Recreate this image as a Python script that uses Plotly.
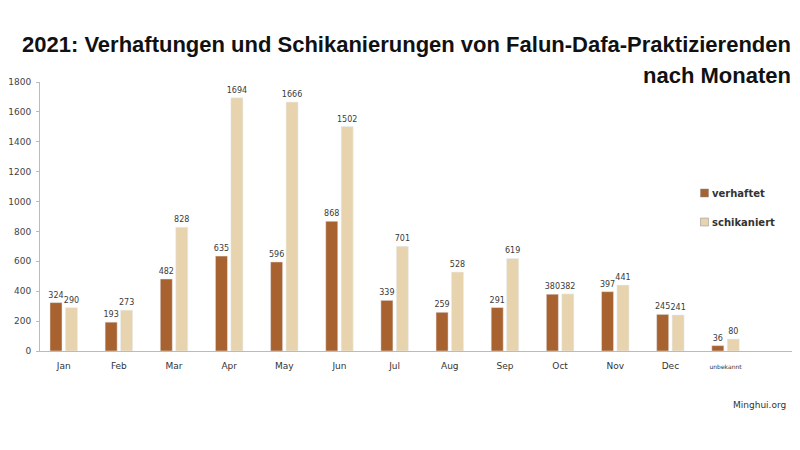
import plotly.graph_objects as go

months = ["Jan", "Feb", "Mar", "Apr", "May", "Jun", "Jul", "Aug", "Sep", "Oct", "Nov", "Dec", "unbekannt"]
verhaftet = [324, 193, 482, 635, 596, 868, 339, 259, 291, 380, 397, 245, 36]
schikaniert = [290, 273, 828, 1694, 1666, 1502, 701, 528, 619, 382, 441, 241, 80]
yticks = [0, 200, 400, 600, 800, 1000, 1200, 1400, 1600, 1800]

dark = "#A8622F"
light = "#E7D4AF"
labelfont = dict(family="DejaVu Sans", size=8, color="#3a3a3a")

# the page puts the figure 8px in from the top-left, so the figure is 8px smaller
W, H = 792, 442
L, T, B = 28, 74, 99
PW, PH = W - L, H - T - B

ticktext = [m if m != "unbekannt" else "<span style='font-size:6px'>unbekannt</span>" for m in months]

fig = go.Figure()
fig.add_trace(go.Bar(x=months, y=verhaftet, name="verhaftet", marker_color=dark,
                     text=verhaftet, textposition="outside", textfont=labelfont,
                     constraintext="none", cliponaxis=False))
fig.add_trace(go.Bar(x=months, y=schikaniert, name="schikaniert", marker_color=light,
                     text=schikaniert, textposition="outside", textfont=labelfont,
                     constraintext="none", cliponaxis=False))

fig.update_layout(
    width=W, height=H,
    margin=dict(l=L, r=0, t=T, b=B),
    paper_bgcolor="white", plot_bgcolor="white",
    barmode="group", bargap=0.44, bargroupgap=0.22,
    showlegend=False,
    font=dict(family="DejaVu Sans", size=8, color="#444444"),
)
fig.update_xaxes(
    type="category", range=[-0.43, 13.35],
    tickvals=months, ticktext=ticktext,
    showline=True, linecolor="#BBBBBB", linewidth=1,
    ticks="", showgrid=False, ticklabelstandoff=6,
    tickfont=dict(family="DejaVu Sans", size=9, color="#333333"),
)
fig.update_yaxes(
    range=[0, 1800], tickvals=yticks,
    showline=True, linecolor="#BBBBBB", linewidth=1,
    ticks="outside", ticklen=3, tickcolor="#BBBBBB",
    showgrid=False, zeroline=False, ticklabelstandoff=3,
    tickfont=dict(family="DejaVu Sans", size=9, color="#444444"),
)


def px(x):
    return (x - 8 - L) / PW


def py(y):
    return (H - B - (y - 8)) / PH


# title
titlefont = dict(family="Liberation Sans, Arial", size=22, color="#111111")
fig.add_annotation(text="<b>2021: Verhaftungen und Schikanierungen von Falun-Dafa-Praktizierenden</b>",
                   xref="paper", yref="paper", x=px(793), y=py(45), xanchor="right", yanchor="middle",
                   showarrow=False, font=titlefont)
fig.add_annotation(text="<b>nach Monaten</b>",
                   xref="paper", yref="paper", x=px(793), y=py(75), xanchor="right", yanchor="middle",
                   showarrow=False, font=titlefont)

# legend drawn by hand
for i, (nm, col) in enumerate([("verhaftet", dark), ("schikaniert", light)]):
    ypix = 193 + 29 * i
    fig.add_shape(type="rect", xref="paper", yref="paper",
                  x0=px(700), x1=px(708), y0=py(ypix + 4), y1=py(ypix - 4),
                  fillcolor=col, line=dict(color="#888888", width=0.5))
    fig.add_annotation(text="<b>" + nm + "</b>", xref="paper", yref="paper",
                       x=px(710), y=py(ypix), xanchor="left", yanchor="middle",
                       showarrow=False, font=dict(family="DejaVu Sans", size=10, color="#333333"))

fig.add_annotation(text="Minghui.org", xref="paper", yref="paper",
                   x=px(788), y=py(405), xanchor="right", yanchor="middle",
                   showarrow=False, font=dict(family="DejaVu Sans", size=9, color="#333333"))

fig.write_html("out.html")
